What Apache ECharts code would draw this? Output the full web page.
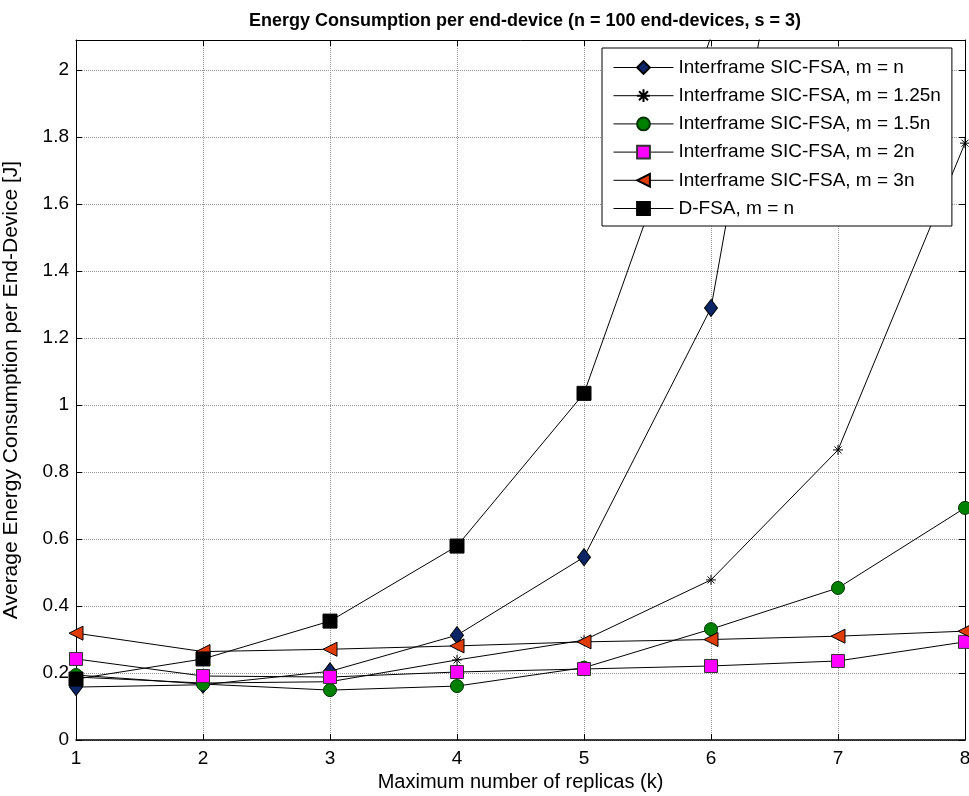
<!DOCTYPE html>
<html>
<head>
<meta charset="utf-8">
<script src="https://cdn.jsdelivr.net/npm/echarts@6/dist/echarts.min.js"></script>
<style>
html,body{margin:0;padding:0;background:#fff;}
#chart{width:969px;height:796px;}
</style>
</head>
<body>
<div id="chart"></div>
<script>
const replicas = [1, 2, 3, 4, 5, 6, 7, 8];
const sicM1 = [0.158, 0.165, 0.205, 0.313, 0.546, 1.29, 3.4, 8.0];
const sicM125 = [0.188, 0.17, 0.174, 0.239, 0.298, 0.478, 0.866, 1.782];
const sicM15 = [0.194, 0.167, 0.149, 0.161, 0.216, 0.331, 0.454, 0.693];
const sicM2 = [0.242, 0.191, 0.188, 0.203, 0.212, 0.221, 0.236, 0.293];
const sicM3 = [0.319, 0.264, 0.271, 0.281, 0.293, 0.300, 0.310, 0.325];
const dfsa = [0.182, 0.242, 0.355, 0.579, 1.035, 2.1, 4.5, 9.0];
const seriesNames = [
  'Interframe SIC-FSA, m = n',
  'Interframe SIC-FSA, m = 1.25n',
  'Interframe SIC-FSA, m = 1.5n',
  'Interframe SIC-FSA, m = 2n',
  'Interframe SIC-FSA, m = 3n',
  'D-FSA, m = n'
];
const yTicks = [0, 0.2, 0.4, 0.6, 0.8, 1, 1.2, 1.4, 1.6, 1.8, 2];

const font = 'Liberation Sans, Arial, Helvetica, sans-serif';
const pair = arr => replicas.map((k, i) => [k, arr[i]]);
const asterisk = 'path://M5,0L5,10M0,5L10,5M1.5,1.5L8.5,8.5M1.5,8.5L8.5,1.5';

function mk(name, data, symbol, size, fill, border, extra) {
  return Object.assign({
    name: name,
    type: 'line',
    data: pair(data),
    symbol: symbol,
    symbolSize: size,
    showAllSymbol: true,
    clip: true,
    lineStyle: { color: '#000', width: 1 },
    itemStyle: { color: fill, borderColor: border, borderWidth: 1, opacity: 1 },
    emphasis: { disabled: true },
    animation: false
  }, extra || {});
}

const chart = echarts.init(document.getElementById('chart'), null, { renderer: 'canvas' });
chart.setOption({
  backgroundColor: '#fff',
  animation: false,
  title: {
    text: 'Energy Consumption per end-device (n = 100 end-devices, s = 3)',
    left: 520,
    textAlign: 'center',
    top: 7,
    textStyle: { fontFamily: font, fontSize: 18, fontWeight: 'bold', color: '#000' }
  },
  grid: { left: 76, right: 4, top: 40, bottom: 56, containLabel: false, outerBoundsMode: 'none' },
  legend: {
    orient: 'vertical',
    left: 602,
    top: 48,
    padding: [10, 11, 8, 11],
    itemWidth: 60,
    itemHeight: 16,
    itemGap: 9.2,
    backgroundColor: '#fff',
    borderColor: '#000',
    borderWidth: 1,
    borderRadius: 0,
    lineStyle: { width: 1, color: '#000' },
    textStyle: { fontFamily: font, fontSize: 19, color: '#000', lineHeight: 16 },
    data: seriesNames
  },
  xAxis: [{
    type: 'value',
    min: 1, max: 8, interval: 1,
    name: 'Maximum number of replicas (k)',
    nameLocation: 'middle',
    nameGap: 31,
    nameTextStyle: { fontFamily: font, fontSize: 20, color: '#000' },
    axisLine: { show: true, onZero: false, lineStyle: { color: '#000', width: 1.5 } },
    axisTick: { show: true, inside: true, length: 6, lineStyle: { color: '#000' } },
    axisLabel: { fontFamily: font, fontSize: 19, color: '#000', margin: 9 },
    splitLine: { show: true, lineStyle: { color: '#999', type: 'dotted', width: 1 } }
  }, {
    type: 'value',
    position: 'top',
    min: 1, max: 8, interval: 1,
    axisLine: { show: true, onZero: false, lineStyle: { color: '#000', width: 1 } },
    axisTick: { show: true, inside: true, length: 6, lineStyle: { color: '#000' } },
    axisLabel: { show: false },
    splitLine: { show: false }
  }],
  yAxis: [{
    type: 'value',
    min: 0, max: 2.09, interval: 0.2,
    name: 'Average Energy Consumption per End-Device [J]',
    nameLocation: 'middle',
    nameGap: 54,
    nameTextStyle: { fontFamily: font, fontSize: 21, color: '#000' },
    axisLine: { show: true, onZero: false, lineStyle: { color: '#000', width: 1 } },
    axisTick: { show: true, inside: true, length: 6, lineStyle: { color: '#000' } },
    axisLabel: {
      fontFamily: font, fontSize: 19, color: '#000', margin: 7,
      showMaxLabel: false,
      formatter: v => {
        const t = yTicks.find(y => Math.abs(y - v) < 1e-6);
        return t === undefined ? '' : String(t);
      }
    },
    splitLine: { show: true, lineStyle: { color: '#999', type: 'dotted', width: 1 } }
  }, {
    type: 'value',
    position: 'right',
    min: 0, max: 2.09, interval: 0.2,
    axisLine: { show: true, onZero: false, lineStyle: { color: '#000', width: 1 } },
    axisTick: { show: true, inside: true, length: 6, lineStyle: { color: '#000' } },
    axisLabel: { show: false },
    splitLine: { show: false }
  }],
  series: [
    mk(seriesNames[0], sicM1, 'diamond', [13, 17], '#0b2566', '#000'),
    mk(seriesNames[1], sicM125, asterisk, 10, 'none', '#000'),
    mk(seriesNames[2], sicM15, 'circle', 13, '#008000', '#003300'),
    mk(seriesNames[3], sicM2, 'rect', 13, '#ff00ff', '#333'),
    mk(seriesNames[4], sicM3, 'triangle', 14, '#e03c0a', '#000', { symbolRotate: 90 }),
    mk(seriesNames[5], dfsa, 'rect', 14, '#000', '#000')
  ]
});
</script>
</body>
</html>
